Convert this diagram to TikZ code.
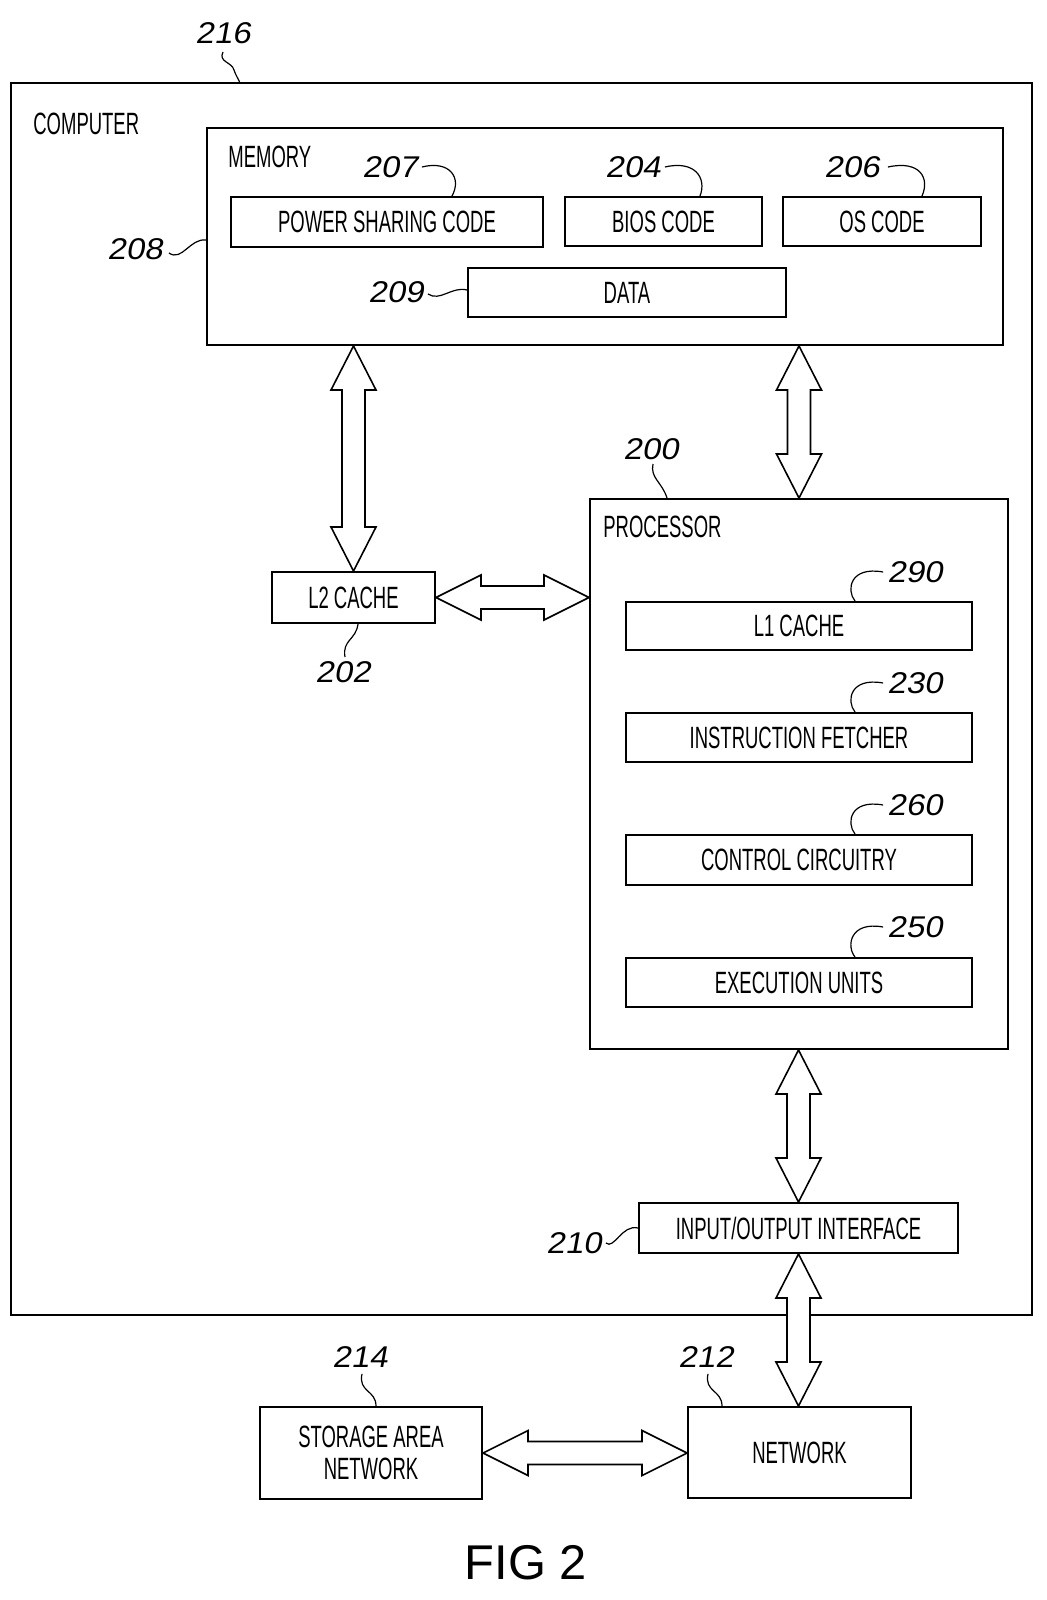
\documentclass[tikz,border=0pt]{standalone}
\usepackage{fontspec}
\setmainfont{Liberation Sans}
\newfontfamily\boxfont[FakeStretch=0.6]{Liberation Sans}
\newfontfamily\numfont[FakeSlant=0.18,FakeStretch=1.1]{Liberation Sans}
\usetikzlibrary{fit,calc}
\tikzset{
  box/.style={draw, line width=1pt, inner sep=0pt},
  btxt/.style={inner sep=0pt, align=center, font=\boxfont\fontsize{15.4}{16}\selectfont},
  ttl/.style={inner sep=0pt, anchor=west, font=\boxfont\fontsize{15.4}{16}\selectfont},
  num/.style={inner sep=0pt, font=\numfont\fontsize{15}{16}\selectfont},
  leader/.style={line width=0.6pt},
  blockarrow/.style={draw, fill=white, line width=0.8pt, line join=miter}
}
\newcommand\dblV[2]{\draw[blockarrow] (#1) -- ++(22.5,44) -- ++(-11,0) -- ($(#2)+(11.5,-44)$) -- ++(11,0) -- (#2) -- ++(-22.5,-44) -- ++(11,0) -- ($(#1)+(-11.5,44)$) -- ++(-11,0) -- cycle;}
\newcommand\dblH[2]{\draw[blockarrow] (#1) -- ++(45,-22.5) -- ++(0,11) -- ($(#2)+(-45,-11.5)$) -- ++(0,-11) -- (#2) -- ++(-45,22.5) -- ++(0,-11) -- ($(#1)+(45,11.5)$) -- ++(0,11) -- cycle;}
\begin{document}
\begin{tikzpicture}[x=0.5pt,y=-0.5pt]
\useasboundingbox (0,0) rectangle (1047,1600);
% boxes
\node[box, fit={(11,83) (1032,1315)}] (computer) {};
\node[ttl] (comptitle) at (33,124) {COMPUTER};
\node[box, fit={(207,128) (1003,345)}] (memory) {};
\node[ttl] (memtitle) at (228,157) {MEMORY};
\node[box, fit={(231,197) (543,247)}] (psc) {};
\node[btxt] (psct) at (psc.center) {POWER SHARING CODE};
\node[box, fit={(565,197) (762,246)}] (bios) {};
\node[btxt] (biost) at (bios.center) {BIOS CODE};
\node[box, fit={(783,197) (981,246)}] (os) {};
\node[btxt] (ost) at (os.center) {OS CODE};
\node[box, fit={(468,268) (786,317)}] (data) {};
\node[btxt] (datat) at (data.center) {DATA};
\node[box, fit={(272,572) (435,623)}] (l2) {};
\node[btxt] (l2t) at (l2.center) {L2 CACHE};
\node[box, fit={(590,499) (1008,1049)}] (proc) {};
\node[ttl] (proctitle) at (603,527) {PROCESSOR};
\node[box, fit={(626,602) (972,650)}] (l1) {};
\node[btxt] (l1t) at (l1.center) {L1 CACHE};
\node[box, fit={(626,713) (972,762)}] (ifetch) {};
\node[btxt] (ifetcht) at (ifetch.center) {INSTRUCTION FETCHER};
\node[box, fit={(626,835) (972,885)}] (ctrl) {};
\node[btxt] (ctrlt) at (ctrl.center) {CONTROL CIRCUITRY};
\node[box, fit={(626,958) (972,1007)}] (exec) {};
\node[btxt] (exect) at (exec.center) {EXECUTION UNITS};
\node[box, fit={(639,1203) (958,1253)}] (io) {};
\node[btxt] (iot) at (io.center) {INPUT/OUTPUT INTERFACE};
\node[box, fit={(260,1407) (482,1499)}] (san) {};
\node[btxt] (sant) at (san.center) {STORAGE AREA\\NETWORK};
\node[box, fit={(688,1407) (911,1498)}] (net) {};
\node[btxt] (nett) at (net.center) {NETWORK};
% reference numbers
\node[num] (n216) at (223,33) {216};
\node[num] (n207) at (390,167) {207};
\node[num] (n204) at (633,167) {204};
\node[num] (n206) at (852,167) {206};
\node[num] (n208) at (135,249) {208};
\node[num] (n209) at (396,292) {209};
\node[num] (n200) at (651,449) {200};
\node[num] (n290) at (915,572) {290};
\node[num] (n230) at (915,683) {230};
\node[num] (n260) at (915,805) {260};
\node[num] (n250) at (915,927) {250};
\node[num] (n202) at (343,672) {202};
\node[num] (n210) at (574,1243) {210};
\node[num] (n214) at (360,1357) {214};
\node[num] (n212) at (706,1357) {212};
\node[inner sep=0pt, font=\fontsize{24.4}{26}\selectfont] (fig) at (526,1563) {FIG 2};
% leaders
\coordinate (c216) at (240,83);
\draw[leader] (223,52) .. controls (218,62) and (232,62) .. (234,70) .. controls (236,76) and (238,78) .. (c216);
\draw[leader] (n207.east) ++(4,0) .. controls (450,160) and (462,178) .. (psc.north -| 452,0);
\draw[leader] (n204.east) ++(4,0) .. controls (695,160) and (707,178) .. (bios.north -| 700,0);
\draw[leader] (n206.east) ++(8,0) .. controls (920,160) and (930,178) .. (os.north -| 922,0);
\draw[leader] (n208.east) ++(6,4) .. controls (182,262) and (190,238) .. (memory.west |- 0,240);
\draw[leader] (n209.east) ++(4,2) .. controls (440,302) and (452,286) .. (data.west |- 0,290);
\draw[leader] (n200.south) ++(2,4) .. controls (650,478) and (662,482) .. (proc.north -| 667,0);
\draw[leader] (n290.west) ++(-4,0) .. controls (850,566) and (846,590) .. (l1.north -| 855,0);
\draw[leader] (n230.west) ++(-4,0) .. controls (850,677) and (846,701) .. (ifetch.north -| 855,0);
\draw[leader] (n260.west) ++(-4,0) .. controls (850,799) and (846,823) .. (ctrl.north -| 855,0);
\draw[leader] (n250.west) ++(-4,0) .. controls (850,921) and (846,946) .. (exec.north -| 855,0);
\draw[leader] (l2.south -| 358,0) .. controls (356,640) and (342,640) .. ($(n202.north)+(2,-4)$);
\draw[leader] (n210.east) ++(4,0) .. controls (614,1250) and (622,1224) .. (io.west |- 0,1228);
\draw[leader] (n214.south) ++(2,6) .. controls (358,1392) and (376,1390) .. (san.north -| 376,0);
\draw[leader] (n212.south) ++(2,6) .. controls (704,1392) and (722,1390) .. (net.north -| 722,0);
% block arrows
\dblV{l2.north |- memory.south}{l2.north}
\dblV{proc.north |- memory.south}{proc.north}
\dblH{l2.east}{l2.east -| proc.west}
\dblV{io.north |- proc.south}{io.north}
\dblV{io.south}{io.south |- net.north}
\dblH{san.east}{san.east -| net.west}
\end{tikzpicture}
\end{document}
